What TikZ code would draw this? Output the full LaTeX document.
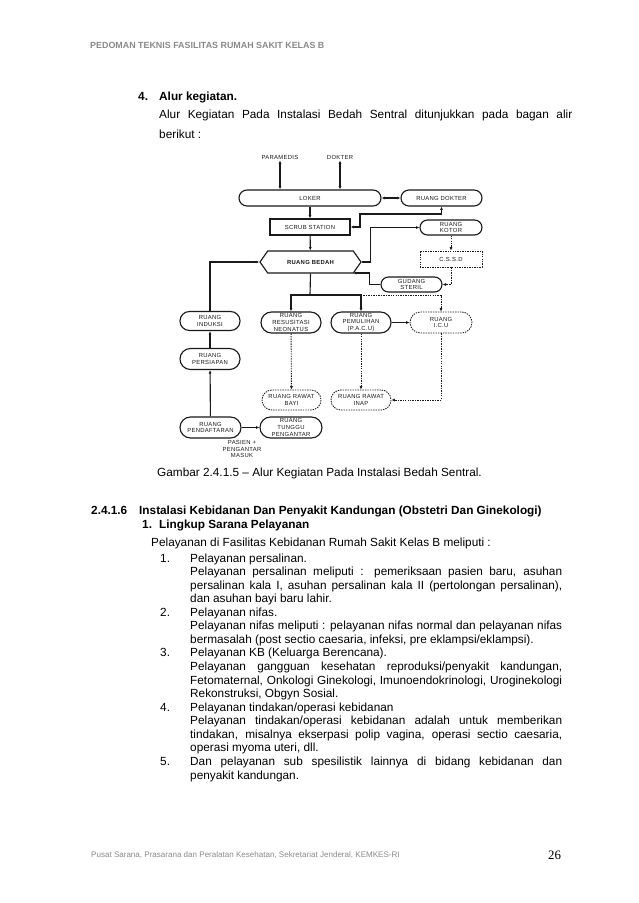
\documentclass[tikz,border=0pt]{standalone}
\usepackage{fontspec}
\setmainfont{Liberation Sans}
\newfontfamily\diagfont[LetterSpace=5]{Liberation Sans}
\newfontfamily\pagenumfont{Liberation Serif}
\usetikzlibrary{arrows.meta,shapes.symbols,calc}
\definecolor{ink}{HTML}{1A1A1A}
\definecolor{headgray}{HTML}{8A8A8A}
\newcommand{\jline}[2]{\makebox[#1][s]{#2}}

\begin{document}
\begin{tikzpicture}[
    x=0.9326pt, y=-0.9326pt,
    room/.style={draw=ink, line width=1.05pt, rounded corners=#1, inner sep=0.5pt,
                 align=center, text=ink, font=\diagfont\fontsize{5.5}{6.2}\selectfont},
    room/.default=7pt,
    dotroom/.style={room=#1, line width=0.8pt, dash pattern=on 1.3pt off 1pt},
    dotroom/.default=9pt,
    bedahbox/.style={room, sharp corners, signal, signal to=west and east,
                     signal pointer angle=110,
                     font=\diagfont\fontsize{5.5}{6.2}\selectfont\bfseries},
    lbl/.style={inner sep=1pt, align=center, text=ink,
                font=\diagfont\fontsize{5.5}{6.2}\selectfont},
    arr/.style={-{Latex[length=3.2pt,width=2.8pt]}, line width=1.05pt, ink},
    darr/.style={arr, {Latex[length=3.2pt,width=2.8pt]}-{Latex[length=3.2pt,width=2.8pt]}},
    arrd/.style={arr, line width=0.8pt, dash pattern=on 1.3pt off 1pt},
    line/.style={line width=1.05pt, ink},
    txt/.style={anchor=base west, inner sep=0pt, font=\fontsize{11}{13}\selectfont},
    txtb/.style={txt, font=\fontsize{11}{13}\selectfont\bfseries},
  ]
  \fill[white] (0,0) rectangle (638,903);
  \useasboundingbox (0,0) rectangle (638,903);

  \node[txt, headgray, font=\fontsize{8.3}{10}\selectfont\bfseries] (head) at (90,49) {PEDOMAN TEKNIS FASILITAS RUMAH SAKIT KELAS B};

  \node[txtb] (num4) at (138,101) {4.};
  \node[txtb] (alurtitle) at (159,101) {Alur kegiatan.};
  \node[txt] (alurline) at (159,119) {\jline{385.2pt}{Alur Kegiatan Pada Instalasi Bedah Sentral ditunjukkan pada bagan alir}};
  \node[txt] (berikut) at (159,139) {berikut :};

  \node[lbl] (paramedis) at (280,157) {PARAMEDIS};
  \node[lbl] (dokter) at (340,157) {DOKTER};
  \node[room=7.4pt, minimum width=132.4pt, minimum height=14.9pt] (loker) at (310,198) {LOKER};
  \node[room=7.4pt, minimum width=75.5pt, minimum height=14.9pt] (rdokter) at (441.5,198) {RUANG DOKTER};
  \node[room, sharp corners, minimum width=74.6pt, minimum height=14.9pt] (scrub) at (310,227) {SCRUB STATION};
  \node[room=7pt, minimum width=57.8pt, minimum height=14pt] (kotor) at (451,227.5) {RUANG\\KOTOR};
  \node[bedahbox, minimum width=94.2pt, minimum height=20.5pt] (bedah) at (310.5,262) {RUANG BEDAH};
  \node[dotroom=0pt, minimum width=57.8pt, minimum height=14.9pt] (cssd) at (451,259) {C.S.S.D};
  \node[room=7pt, minimum width=56.9pt, minimum height=14pt] (gudang) at (411.5,284.5) {GUDANG\\STERIL};
  \node[room=8.8pt, minimum width=56pt, minimum height=17.7pt] (induksi) at (210,321) {RUANG\\INDUKSI};
  \node[room=9.8pt, minimum width=56pt, minimum height=19.6pt] (resus) at (291,322.5) {RUANG\\RESUSITASI\\NEONATUS};
  \node[room=9.8pt, minimum width=56pt, minimum height=19.6pt] (pacu) at (361,322.5) {RUANG\\PEMULIHAN\\(P.A.C.U)};
  \node[dotroom=9.8pt, minimum width=57.8pt, minimum height=19.6pt] (icu) at (441,322.5) {RUANG\\I.C.U};
  \node[room=9.8pt, minimum width=56pt, minimum height=19.6pt] (persiapan) at (210,359) {RUANG\\PERSIAPAN};
  \node[dotroom=9.3pt, minimum width=55pt, minimum height=18.7pt] (bayi) at (291.5,400) {RUANG RAWAT\\BAYI};
  \node[dotroom=9.3pt, minimum width=56pt, minimum height=18.7pt] (inap) at (361,400) {RUANG RAWAT\\INAP};
  \node[room=9.8pt, minimum width=56.9pt, minimum height=19.6pt] (daftar) at (210.5,427.5) {RUANG\\PENDAFTARAN};
  \node[room=9.8pt, minimum width=57.8pt, minimum height=19.6pt] (tunggu) at (291,427.5) {RUANG\\TUNGGU\\PENGANTAR};
  \node[lbl] (masuk) at (242,449) {PASIEN +\\PENGANTAR\\MASUK};

  \coordinate (bend) at (360,214);
  \coordinate (split) at (310,295);
  \coordinate (bedahcorner) at ($(bedah.south)+(42.5,-0.5)$);

  \draw[darr] (paramedis.south) -- (paramedis.south |- loker.north);
  \draw[darr] (dokter.south) -- (dokter.south |- loker.north);
  \draw[darr] (loker) -- (rdokter);
  \draw[arr] (loker) -- (scrub);
  \draw[darr] (scrub.east) -| (bend) -| (rdokter.south);
  \draw[arr] (scrub) -- (bedah);
  \draw[arr] (bedah.east) -- ++(9,0) |- (kotor.west);
  \draw[arrd] (kotor) -- (cssd);
  \draw[arrd] (cssd.south) |- (gudang.east);
  \draw[arr] (gudang.west) -- ++(-11,0) |- (bedahcorner);
  \draw[arr] (induksi.north) |- (bedah.west);
  \draw[line] (bedah.south) -- (split);
  \draw[arr] (split) -| (resus.north);
  \draw[arr] (split) -| (pacu.north);
  \draw[arrd] (pacu.north |- split) -| (icu.north);
  \draw[arr] (pacu) -- (icu);
  \draw[arrd] (resus) -- (bayi);
  \draw[arrd] (pacu) -- (inap);
  \draw[arrd] (icu.south) |- (inap.east);
  \draw[arr] (persiapan) -- (induksi);
  \draw[arr] (daftar) -- (persiapan);
  \draw[arr] (daftar) -- (tunggu);

  \node[txt] (caption) at (157,476) {Gambar 2.4.1.5 -- Alur Kegiatan Pada Instalasi Bedah Sentral.};

  \node[txtb] (secnum) at (91,514) {2.4.1.6};
  \node[txtb] (sectitle) at (139,514) {Instalasi Kebidanan Dan Penyakit Kandungan (Obstetri Dan Ginekologi)};
  \node[txtb] (num1) at (142,528) {1.};
  \node[txtb] (lingkup) at (159,528) {Lingkup Sarana Pelayanan};
  \node[txt] (intro) at (151,546) {Pelayanan di Fasilitas Kebidanan Rumah Sakit Kelas B meliputi :};

  \node[txt] (n1) at (160,562) {1.};
  \node[txt] (i1a) at (190,562) {Pelayanan persalinan.};
  \node[txt] (i1b) at (190,575.6) {\jline{346.9pt}{Pelayanan persalinan meliputi : pemeriksaan pasien baru, asuhan}};
  \node[txt] (i1c) at (190,589.1) {\jline{346.9pt}{persalinan kala I, asuhan persalinan kala II (pertolongan persalinan),}};
  \node[txt] (i1d) at (190,602.7) {dan asuhan bayi baru lahir.};
  \node[txt] (n2) at (160,616.2) {2.};
  \node[txt] (i2a) at (190,616.2) {Pelayanan nifas.};
  \node[txt] (i2b) at (190,629.8) {\jline{346.9pt}{Pelayanan nifas meliputi : pelayanan nifas normal dan pelayanan nifas}};
  \node[txt] (i2c) at (190,643.4) {bermasalah (post sectio caesaria, infeksi, pre eklampsi/eklampsi).};
  \node[txt] (n3) at (160,656.9) {3.};
  \node[txt] (i3a) at (190,656.9) {Pelayanan KB (Keluarga Berencana).};
  \node[txt] (i3b) at (190,670.5) {\jline{346.9pt}{Pelayanan gangguan kesehatan reproduksi/penyakit kandungan,}};
  \node[txt] (i3c) at (190,684.0) {\jline{346.9pt}{Fetomaternal, Onkologi Ginekologi, Imunoendokrinologi, Uroginekologi}};
  \node[txt] (i3d) at (190,697.6) {Rekonstruksi, Obgyn Sosial.};
  \node[txt] (n4) at (160,711.2) {4.};
  \node[txt] (i4a) at (190,711.2) {Pelayanan tindakan/operasi kebidanan};
  \node[txt] (i4b) at (190,724.7) {\jline{346.9pt}{Pelayanan tindakan/operasi kebidanan adalah untuk memberikan}};
  \node[txt] (i4c) at (190,738.3) {\jline{346.9pt}{tindakan, misalnya ekserpasi polip vagina, operasi sectio caesaria,}};
  \node[txt] (i4d) at (190,751.8) {operasi myoma uteri, dll.};
  \node[txt] (n5) at (160,765.4) {5.};
  \node[txt] (i5a) at (190,765.4) {\jline{346.9pt}{Dan pelayanan sub spesilistik lainnya di bidang kebidanan dan}};
  \node[txt] (i5b) at (190,779.0) {penyakit kandungan.};

  \node[txt, headgray, font=\fontsize{7.5}{9}\selectfont] (foot) at (91,857) {Pusat Sarana, Prasarana dan Peralatan Kesehatan, Sekretariat Jenderal, KEMKES-RI};
  \node[txt, font=\pagenumfont\fontsize{12}{14}\selectfont] (pagenum) at (548,859) {26};
\end{tikzpicture}
\end{document}
